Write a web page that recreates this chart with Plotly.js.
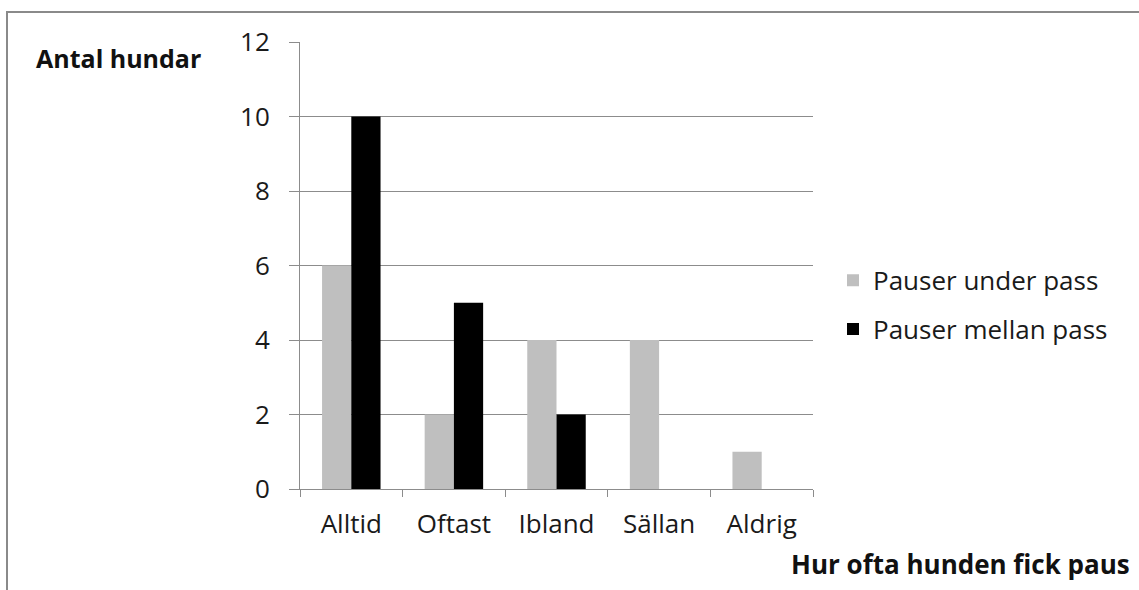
<!DOCTYPE html>
<html>
<head>
<meta charset="utf-8">
<script src="https://cdn.plot.ly/plotly-3.0.1.min.js"></script>
<style>
  html, body { margin: 0; padding: 0; background: #fff; }
  #frame { position: absolute; left: 6px; top: 11px; width: 1200px; height: 700px;
           border-left: 2px solid #8a8a8a; border-top: 2px solid #8a8a8a; }
  #chart { position: absolute; left: 0; top: 0; width: 1139px; height: 590px; }
</style>
</head>
<body>
<div id="frame"></div>
<div id="chart"></div>
<script>
const categories = ["Alltid", "Oftast", "Ibland", "Sällan", "Aldrig"];
const seriesNames = ["Pauser under pass", "Pauser mellan pass"];
const underPass = [6, 2, 4, 4, 1];
const mellanPass = [10, 5, 2, 0, 0];
const yTicks = [0, 2, 4, 6, 8, 10, 12];

const font = "Open Sans, Lato, sans-serif";
const fs = 26;

const traces = [
  { type: "bar", name: seriesNames[0], x: categories, y: underPass,
    marker: { color: "#bfbfbf" }, legendgroup: "a" },
  { type: "bar", name: seriesNames[1], x: categories, y: mellanPass,
    marker: { color: "#000000" }, legendgroup: "b" }
];

const layout = {
  width: 1139, height: 590,
  paper_bgcolor: "rgba(0,0,0,0)", plot_bgcolor: "rgba(0,0,0,0)",
  margin: { l: 300, r: 326, t: 42, b: 101 },
  barmode: "group", bargap: 0.43, bargroupgap: 0,
  font: { family: font, size: fs, color: "#1a1a1a" },
  xaxis: {
    type: "category", tickson: "boundaries", ticks: "outside", ticklen: 7,
    tickcolor: "#8c8c8c", showline: true, linecolor: "#8c8c8c", linewidth: 1,
    showgrid: false, tickfont: { family: font, size: fs, color: "#1a1a1a" },
    ticklabelstandoff: 12, fixedrange: true
  },
  yaxis: {
    range: [0, 12], tickvals: yTicks, ticktext: yTicks.map(String),
    ticks: "outside", ticklen: 10, tickcolor: "#8c8c8c",
    showline: true, linecolor: "#8c8c8c", linewidth: 1,
    showgrid: true, gridcolor: "#8c8c8c", gridwidth: 1, zeroline: false,
    tickfont: { family: font, size: fs, color: "#1a1a1a" },
    ticklabelstandoff: 14, fixedrange: true
  },
  showlegend: true,
  legend: {
    x: 1.039, xanchor: "left", y: 0.412, yanchor: "middle",
    traceorder: "grouped", tracegroupgap: 12,
    font: { family: font, size: fs, color: "#1a1a1a" },
    itemwidth: 30, bgcolor: "rgba(0,0,0,0)"
  },
  annotations: [
    { text: "<b>Antal hundar</b>", xref: "paper", yref: "paper",
      x: -0.518, y: 0.965, xanchor: "left", yanchor: "middle", showarrow: false,
      font: { family: font, size: 25, color: "#111" } },
    { text: "<b>Hur ofta hunden fick paus</b>", xref: "paper", yref: "paper",
      x: 1.621, y: -0.168, xanchor: "right", yanchor: "middle", showarrow: false,
      font: { family: font, size: 26, color: "#111" } }
  ]
};

Plotly.newPlot("chart", traces, layout, { displayModeBar: false, staticPlot: true });
</script>
</body>
</html>
